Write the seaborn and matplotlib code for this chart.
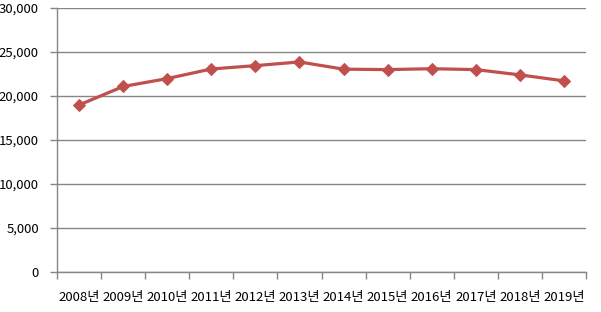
import matplotlib
matplotlib.use("Agg")
import matplotlib.pyplot as plt
import seaborn as sns
import pandas as pd
from matplotlib.ticker import FuncFormatter, FixedLocator

years = ["2008년", "2009년", "2010년", "2011년", "2012년", "2013년",
         "2014년", "2015년", "2016년", "2017년", "2018년", "2019년"]
values = [18980, 21080, 21980, 23070, 23450, 23870,
          23050, 23000, 23100, 23000, 22400, 21720]
yticks = [0, 5000, 10000, 15000, 20000, 25000, 30000]

sns.set_theme(style="white")
plt.rcParams['font.family'] = ['Noto Sans CJK KR', 'DejaVu Sans']

df = pd.DataFrame({"year": years, "value": values})

fig = plt.figure(figsize=(6.01, 3.12), dpi=100)
ax = fig.add_axes([57/601, 1 - 272/312, (586-57)/601, (272-8)/312])

sns.lineplot(data=df, x="year", y="value", ax=ax, sort=False,
             color="#C0504D", linewidth=2.3, marker="D", markersize=6,
             markeredgecolor="#C0504D", markerfacecolor="#C0504D")

ax.set_xlim(-0.5, len(years) - 0.5)
ax.set_ylim(0, 30000)
ax.set_yticks(yticks)
ax.yaxis.set_major_formatter(FuncFormatter(lambda v, p: f"{int(v):,}"))
ax.grid(axis="y", color="#868686", linewidth=1)
ax.grid(axis="x", visible=False)
ax.set_axisbelow(True)
ax.set_xlabel("")
ax.set_ylabel("")

ax.set_xticks(range(len(years)))
ax.set_xticklabels(years)
ax.xaxis.set_minor_locator(FixedLocator([i - 0.5 for i in range(len(years) + 1)]))
ax.tick_params(axis="x", which="major", length=0, pad=14, labelsize=9.5, colors="black")
ax.tick_params(axis="x", which="minor", length=5, width=1, color="#868686", direction="out", bottom=True)
ax.tick_params(axis="y", which="major", length=5, width=1, color="#868686", direction="out", left=True, pad=8, labelsize=9.5, labelcolor="black")

for s in ["top", "right"]:
    ax.spines[s].set_visible(False)
for s in ["left", "bottom"]:
    ax.spines[s].set_visible(True)
    ax.spines[s].set_color("#868686")
    ax.spines[s].set_linewidth(1)

fig.savefig("out.png", dpi=100)
